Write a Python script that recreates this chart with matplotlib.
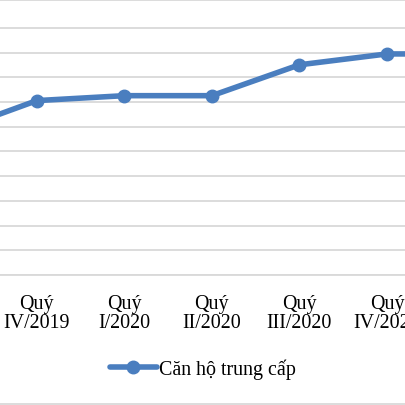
import matplotlib
matplotlib.use("Agg")
import matplotlib.pyplot as plt
from matplotlib.lines import Line2D

# ==================================================
# data (đơn vị: số vạch lưới)
# ==================================================

quarters = [
    'Quý\nIII/2019',
    'Quý\nIV/2019',
    'Quý\nI/2020',
    'Quý\nII/2020',
    'Quý\nIII/2020',
    'Quý\nIV/2020',
    'Quý\nI/2021'
]

values = [5.77, 7.06, 7.26, 7.26, 8.51, 8.95, 8.95]

series_name = 'Căn hộ trung cấp'

# ==================================================
# figure
# ==================================================

plt.rcParams['font.family'] = ['Liberation Serif', 'DejaVu Serif']

fig = plt.figure(figsize=(4.06, 4.06), dpi=100)

# axes vượt ra ngoài khung hình (ảnh gốc bị cắt)
ax = fig.add_axes([-0.2329, 0.3202, 1.5094, 0.6388])

ax.plot(
    range(len(quarters)),
    values,
    color='#4A7EBF',
    linewidth=4,
    marker='o',
    markersize=9,
    label=series_name,
    solid_capstyle='round'
)

ax.set_xlim(-0.5, len(quarters) - 0.5)
ax.set_ylim(0, 10.5)

ax.set_yticks(range(0, 11))
ax.yaxis.grid(True, color='#D9D9D9', linewidth=1.3)
ax.set_axisbelow(True)
ax.tick_params(axis='y', left=False, labelleft=False)

ax.set_xticks(range(len(quarters)))
ax.set_xticklabels(quarters, fontsize=14.4, linespacing=1.0)
ax.tick_params(axis='x', length=0, pad=14)

for side in ['top', 'left', 'right']:
    ax.spines[side].set_visible(False)
ax.spines['bottom'].set_color('#D9D9D9')
ax.spines['bottom'].set_linewidth(1.3)

fig.legend(
    loc='center',
    bbox_to_anchor=(0.499, 0.089),
    frameon=False,
    fontsize=14.4,
    handlelength=2.35,
    handletextpad=0.1
)

# viền khung biểu đồ
for yy in [0.9975, 0.0025]:
    fig.add_artist(Line2D([0, 1], [yy, yy], transform=fig.transFigure,
                          color='#D9D9D9', linewidth=1.3))

plt.savefig('out.png', dpi=100)
